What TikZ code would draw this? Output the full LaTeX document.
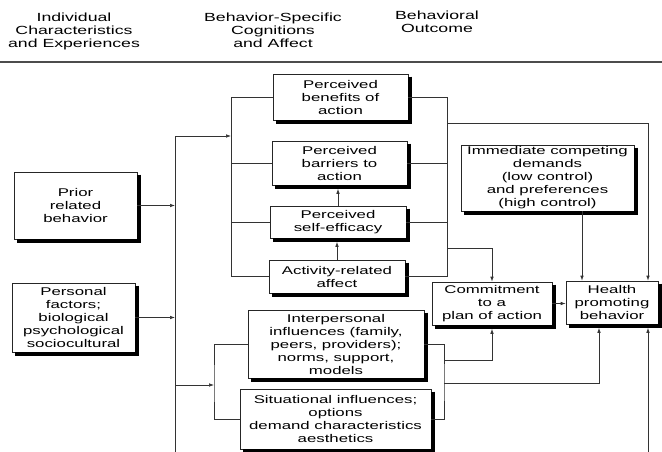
\documentclass[tikz,border=0pt]{standalone}
\usepackage{fontspec}
\setmainfont[FakeStretch=1.5]{Liberation Sans}
\usetikzlibrary{arrows.meta}
\tikzset{shadeline/.style={draw=black, line width=3.5pt, line join=miter, line cap=butt}}
\newcommand\boxshade[1]{%
  \draw[shadeline] ([xshift=1.75pt,yshift=-3pt]#1.north east) -- ([xshift=1.75pt,yshift=-1.75pt]#1.south east) -- ([xshift=3pt,yshift=-1.75pt]#1.south west);}
\begin{document}
\begin{tikzpicture}[x=1pt,y=-1pt,
  font=\fontsize{11.2}{13}\selectfont,
  box/.style={draw=black!85, line width=0.7pt, fill=white, align=center, inner sep=0pt},
  wire/.style={draw=black!80, line width=0.7pt},
  arr/.style={wire,-{Latex[length=5pt,width=3.6pt]}},
  head/.style={align=center, inner sep=0pt, font=\fontsize{11.8}{13}\selectfont}]
\useasboundingbox (0,0) rectangle (662,452);

% headers
\node[head] (h1) at (74,31) {Individual\\Characteristics\\and Experiences};
\node[head] (h2) at (273,30) {Behavior-Specific\\Cognitions\\and Affect};
\node[head] (h3) at (437,22) {Behavioral\\Outcome};
\coordinate (rl) at (0,62);
\coordinate (rr) at (662,62);
\draw[black!70, line width=1.2pt] (rl) -- (rr);

% boxes
\node[box,minimum width=123pt,minimum height=67pt] (prior) at (75.5,205.5) {Prior\\related\\behavior};
\node[box,minimum width=123pt,minimum height=69pt] (personal) at (73.5,317.5) {Personal\\factors;\\biological\\psychological\\sociocultural};
\node[box,minimum width=135pt,minimum height=46pt] (benefits) at (340.5,97) {Perceived\\benefits of\\action};
\node[box,minimum width=135pt,minimum height=44pt] (barriers) at (339.5,163) {Perceived\\barriers to\\action};
\node[box,minimum width=136pt,minimum height=32pt] (selfeff) at (338,222) {Perceived\\self-efficacy};
\node[box,minimum width=136pt,minimum height=33pt] (activity) at (337,276.5) {Activity-related\\affect};
\node[box,minimum width=173pt,minimum height=66pt] (immediate) at (547.5,178) {Immediate competing\\demands\\(low control)\\and preferences\\(high control)};
\node[box,minimum width=120pt,minimum height=43pt] (commit) at (492,303.5) {Commitment\\to a\\plan of action};
\node[box,minimum width=92pt,minimum height=43pt] (health) at (612,302.5) {Health\\promoting\\behavior};
\node[box,minimum width=176pt,minimum height=68pt] (inter) at (336,344) {Interpersonal\\influences (family,\\peers, providers);\\norms, support,\\models};
\node[box,minimum width=191pt,minimum height=60pt] (situ) at (335.5,419) {Situational influences;\\options\\demand characteristics\\aesthetics};

% shadows (right and bottom strips)
\boxshade{prior}
\boxshade{personal}
\boxshade{benefits}
\boxshade{barriers}
\boxshade{selfeff}
\boxshade{activity}
\boxshade{immediate}
\boxshade{commit}
\boxshade{health}
\boxshade{inter}
\boxshade{situ}

% helper coordinates
\coordinate (mbtop) at (175,136);
\coordinate (mbbot) at (175,452);
\coordinate (ubin) at (231,136);
\coordinate (ubx) at (231,0);
\coordinate (lb) at (214,385);
\coordinate (rbx) at (447,0);
\coordinate (rb) at (447,248);
\coordinate (hb) at (447,123);
\coordinate (xr) at (648,452);
\coordinate (xi) at (582,0);
\coordinate (xh) at (599,0);
\coordinate (lr1) at (444,360);
\coordinate (lr2) at (444,383);

% left main bus
\draw[arr] (mbbot) -- (mbtop) -- (ubin);
\draw[arr] (prior.east) -- (prior.east -| mbtop);
\draw[arr] (personal.east) -- (personal.east -| mbtop);
\draw[arr] (lb -| mbtop) -- (lb);

% upper-left bus
\draw[wire] (benefits.west) -| (ubx |- activity.west) -- (activity.west);
\draw[wire] (barriers.west) -- (barriers.west -| ubx);
\draw[wire] (selfeff.west) -- (selfeff.west -| ubx);

% vertical arrows between cognitions
\draw[arr] (selfeff.north) -- ([yshift=-3.5pt]selfeff.north |- barriers.south);
\draw[arr] (activity.north) -- ([yshift=-3.5pt]activity.north |- selfeff.south);

% upper-right bus
\draw[wire] (benefits.east) -| (rbx |- activity.east) -- (activity.east);
\draw[wire] (barriers.east) -- (barriers.east -| rbx);
\draw[wire] (selfeff.east) -- (selfeff.east -| rbx);
\draw[arr] (hb) -| (xr |- health.north);
\draw[arr] (rb) -| (commit.north);

% lower-left bus
\draw[wire] (inter.west) -| (lb) |- (situ.west);

% lower-right bus
\draw[wire] (inter.east) -| (lr2) |- (situ.east);
\draw[arr] (lr1) -| ([yshift=-3.5pt]commit.south);
\draw[arr] (lr2) -| ([yshift=-3.5pt]xh |- health.south);

% outcome arrows
\draw[arr] (xi |- immediate.south) -- (xi |- health.north);
\draw[arr] (commit.east) -- (commit.east -| health.west);
\draw[arr] (xr) -- ([yshift=-3.5pt]xr |- health.south);
\end{tikzpicture}
\end{document}
